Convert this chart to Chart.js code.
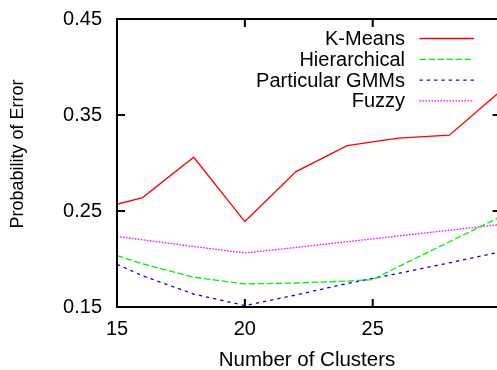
<!DOCTYPE html>
<html>
<head>
<meta charset="utf-8">
<script src="https://cdn.jsdelivr.net/npm/chart.js@4/dist/chart.umd.min.js"></script>
<style>
  html, body { margin: 0; padding: 0; background: #fff; overflow: hidden; }
  #wrap { width: 497px; height: 370px; position: relative; }
</style>
</head>
<body>
<div id="wrap"><canvas id="c" width="497" height="370"></canvas></div>
<script>
// ---- data ----
const clusters      = [15, 16, 18, 20, 22, 24, 26, 28, 30];
const clustersHier  = [15, 16, 18, 20, 22, 24, 25, 26, 28, 30];
const kMeans        = [0.257, 0.264, 0.306, 0.239, 0.291, 0.318, 0.326, 0.329, 0.375];
const hierarchical  = [0.2035, 0.195, 0.181, 0.174, 0.175, 0.177, 0.1785, 0.192, 0.218, 0.244];
const particularGMM = [0.1945, 0.1825, 0.1635, 0.1515, 0.1625, 0.1745, 0.185, 0.196, 0.2075];
const fuzzy         = [0.2235, 0.220, 0.213, 0.2063, 0.212, 0.218, 0.224, 0.230, 0.236];
const seriesNames   = ['K-Means', 'Hierarchical', 'Particular GMMs', 'Fuzzy'];
const xTicks        = [15, 20, 25];
const yTicks        = [0.15, 0.25, 0.35, 0.45];
const xTitle        = 'Number of Clusters';
const yTitle        = 'Probability of Error';

const pts = (xs, ys) => xs.map((x, i) => ({ x: x, y: ys[i] }));
const FONT = '"Liberation Sans", Arial, Helvetica, sans-serif';

const framePlugin = {
  id: 'frame',
  afterDraw(chart) {
    const { ctx, chartArea, scales } = chart;
    const xs = scales.x, ys = scales.y;
    const L = chartArea.left, T = chartArea.top, B = chartArea.bottom;
    const R = xs.getPixelForValue(30);
    ctx.save();
    ctx.strokeStyle = '#000';
    ctx.lineWidth = 2;
    ctx.strokeRect(L, T, R - L, B - T);
    const tl = 8;
    ctx.beginPath();
    xTicks.forEach(v => {
      const px = xs.getPixelForValue(v);
      ctx.moveTo(px, B); ctx.lineTo(px, B - tl);
      ctx.moveTo(px, T); ctx.lineTo(px, T + tl);
    });
    yTicks.forEach(v => {
      const py = ys.getPixelForValue(v);
      ctx.moveTo(L, py); ctx.lineTo(L + tl, py);
      ctx.moveTo(R, py); ctx.lineTo(R - tl, py);
    });
    ctx.stroke();

    // legend (text right-aligned, sample line on the right)
    ctx.font = '20px ' + FONT;
    ctx.fillStyle = '#000';
    ctx.textAlign = 'right';
    ctx.textBaseline = 'middle';
    chart.data.datasets.forEach((ds, i) => {
      const y = 38.5 + i * 20.8;
      ctx.fillText(ds.label, 405, y + 1);
      ctx.save();
      ctx.strokeStyle = ds.borderColor;
      ctx.lineWidth = ds.borderWidth;
      ctx.setLineDash(ds.borderDash || []);
      ctx.beginPath();
      ctx.moveTo(419.5, y); ctx.lineTo(474, y);
      ctx.stroke();
      ctx.restore();
    });

    // y-axis title
    ctx.save();
    ctx.font = '18px ' + FONT;
    ctx.textAlign = 'center';
    ctx.textBaseline = 'middle';
    ctx.translate(18, 154);
    ctx.rotate(-Math.PI / 2);
    ctx.fillText(yTitle, 0, 0);
    ctx.restore();
    ctx.restore();
  }
};

new Chart(document.getElementById('c'), {
  type: 'line',
  data: {
    datasets: [
      { label: seriesNames[0], data: pts(clusters, kMeans), borderColor: '#ff0000', borderWidth: 1.3, borderDash: [] },
      { label: seriesNames[1], data: pts(clustersHier, hierarchical), borderColor: '#00f000', borderWidth: 1.3, borderDash: [6.5, 2.5] },
      { label: seriesNames[2], data: pts(clusters, particularGMM), borderColor: '#0000ff', borderWidth: 1.3, borderDash: [3.3, 4] },
      { label: seriesNames[3], data: pts(clusters, fuzzy), borderColor: '#ff00ff', borderWidth: 1.3, borderDash: [1.6, 1.4] }
    ]
  },
  options: {
    responsive: false,
    animation: false,
    devicePixelRatio: 1,
    layout: { padding: { top: 19, right: 0, bottom: 0, left: 0 } },
    elements: { point: { radius: 0 }, line: { tension: 0, fill: false } },
    plugins: { legend: { display: false }, tooltip: { enabled: false }, title: { display: false } },
    scales: {
      x: {
        type: 'linear',
        min: 15,
        max: 29.86,
        afterBuildTicks: s => { s.ticks = xTicks.map(v => ({ value: v })); },
        afterFit: s => { s.height = 63; s.paddingLeft = 0; s.paddingRight = 0; },
        grid: { display: false, drawTicks: false },
        border: { display: false },
        ticks: { color: '#000', font: { size: 20, family: FONT }, padding: 10, maxRotation: 0, autoSkip: false },
        title: { display: true, text: xTitle, color: '#000', font: { size: 20.5, family: FONT }, padding: { top: 0, bottom: -3 } }
      },
      y: {
        type: 'linear',
        min: 0.15,
        max: 0.45,
        afterBuildTicks: s => { s.ticks = yTicks.map(v => ({ value: v })); },
        afterFit: s => { s.width = 117; s.paddingTop = 0; s.paddingBottom = 0; },
        grid: { display: false, drawTicks: false },
        border: { display: false },
        ticks: { color: '#000', font: { size: 20, family: FONT }, padding: 15, callback: v => v.toFixed(2) }
      }
    }
  },
  plugins: [framePlugin]
});
</script>
</body>
</html>
